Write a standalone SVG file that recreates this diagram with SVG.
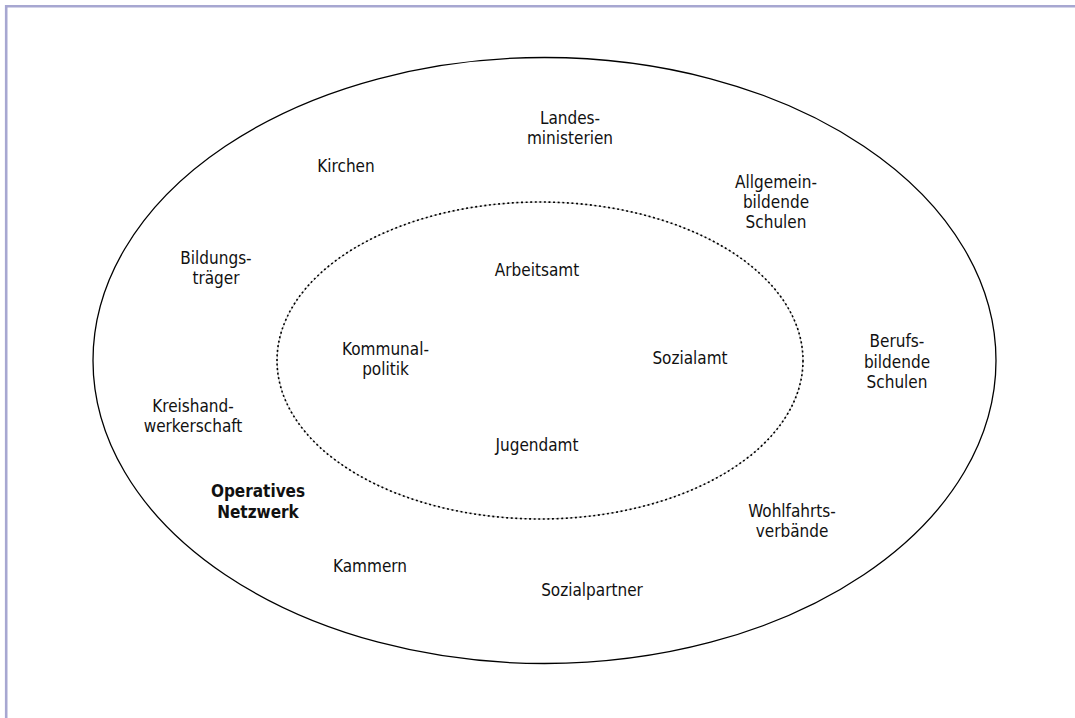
<svg xmlns="http://www.w3.org/2000/svg" width="1075" height="718" viewBox="0 0 1075 718">
<style>
.t{font-family:"DejaVu Sans Condensed","DejaVu Sans",Verdana,sans-serif;font-stretch:condensed;font-size:17px;fill:#111;text-anchor:middle}
.b{font-weight:bold}
.outer{fill:none;stroke:#000;stroke-width:1.3}
.innerbase{fill:none;stroke:#c4c4c4;stroke-width:0.9}
.innerdots{fill:none;stroke:#000;stroke-width:1.6;stroke-dasharray:2 2.6}
</style>
<rect width="1075" height="718" fill="#fff"/>
<path d="M6.2,718 V6.2 H1075" fill="none" stroke="#a7a7d1" stroke-width="2.6"/>
<g id="rings">
<ellipse class="outer" cx="544.5" cy="360.5" rx="451.5" ry="303"/>
<ellipse class="innerbase" cx="540" cy="360.5" rx="263" ry="158.5"/>
<ellipse class="innerdots" cx="540" cy="360.5" rx="263" ry="158.5"/>
</g>
<g id="connectors"/>
<g id="landesministerien"><text class="t" x="570" y="123.5">Landes-<tspan x="570" dy="20">ministerien</tspan></text></g>
<g id="kirchen"><text class="t" x="346" y="172">Kirchen</text></g>
<g id="allgemeinbildende-schulen"><text class="t" x="776" y="187.5">Allgemein-<tspan x="776" dy="20">bildende</tspan><tspan x="776" dy="20">Schulen</tspan></text></g>
<g id="bildungstraeger"><text class="t" x="216" y="264">Bildungs-<tspan x="216" dy="20">träger</tspan></text></g>
<g id="arbeitsamt"><text class="t" x="537" y="276">Arbeitsamt</text></g>
<g id="kommunalpolitik"><text class="t" x="385.5" y="355">Kommunal-<tspan x="385.5" dy="19.5">politik</tspan></text></g>
<g id="sozialamt"><text class="t" x="690" y="364">Sozialamt</text></g>
<g id="berufsbildende-schulen"><text class="t" x="897" y="347">Berufs-<tspan x="897" dy="20.5">bildende</tspan><tspan x="897" dy="20.5">Schulen</tspan></text></g>
<g id="kreishandwerkerschaft"><text class="t" x="193" y="412">Kreishand-<tspan x="193" dy="19.5">werkerschaft</tspan></text></g>
<g id="jugendamt"><text class="t" x="537" y="451">Jugendamt</text></g>
<g id="operatives-netzwerk"><text class="t b" x="258" y="497">Operatives<tspan x="258" dy="20.5">Netzwerk</tspan></text></g>
<g id="wohlfahrtsverbaende"><text class="t" x="792" y="516.5">Wohlfahrts-<tspan x="792" dy="20">verbände</tspan></text></g>
<g id="kammern"><text class="t" x="370" y="572">Kammern</text></g>
<g id="sozialpartner"><text class="t" x="592" y="596">Sozialpartner</text></g>
</svg>
